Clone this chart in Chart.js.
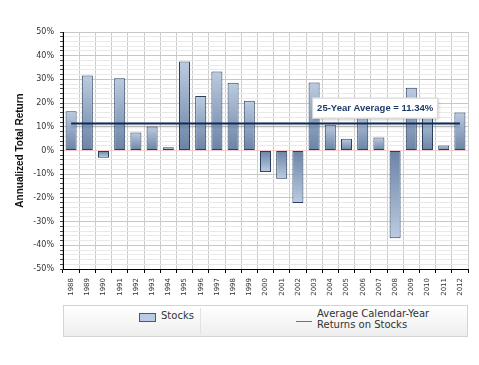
<!DOCTYPE html>
<html>
<head>
<meta charset="utf-8">
<script src="https://cdn.jsdelivr.net/npm/chart.js@4"></script>
<style>
  body { margin: 0; background: #fff; }
  #wrap { position: relative; width: 479px; height: 365px; }
  #legend {
    position: absolute; left: 63px; top: 305px; width: 403px; height: 30px;
    border: 1px solid #d4d4d4;
    background: linear-gradient(#ffffff, #eeeeee);
    font-family: "DejaVu Sans", Verdana, sans-serif; font-size: 10px; color: #333;
  }
  #legend .divider { position: absolute; left: 136px; top: 2px; bottom: 2px; border-left: 1px solid #e2e2e2; }
  #legend .swatch { position: absolute; left: 75px; top: 7px; width: 15px; height: 7px; background: #b9cce5; border: 1px solid #3e5b82; }
  #legend .t1 { position: absolute; left: 97px; top: 4px; }
  #legend .line { position: absolute; left: 232px; top: 15px; width: 16px; border-top: 1px solid #56759f; }
  #legend .t2 { position: absolute; left: 253px; top: 3px; line-height: 10.7px; }
</style>
</head>
<body>
<div id="wrap">
  <canvas id="returnsChart" width="479" height="365"></canvas>
  <div id="legend">
    <div class="swatch"></div><div class="t1">Stocks</div>
    <div class="divider"></div>
    <div class="line"></div><div class="t2">Average Calendar-Year<br>Returns on Stocks</div>
  </div>
</div>
<script>
// Chart data
const years = ['1988','1989','1990','1991','1992','1993','1994','1995','1996','1997','1998','1999','2000',
               '2001','2002','2003','2004','2005','2006','2007','2008','2009','2010','2011','2012'];
const stockReturns = [16.61, 31.69, -3.10, 30.47, 7.62, 10.08, 1.32, 37.58, 22.96, 33.36, 28.58, 21.04, -9.10,
                      -11.89, -22.10, 28.68, 10.88, 4.91, 15.79, 5.49, -37.00, 26.46, 15.06, 2.11, 16.00];
const averageReturn = 11.34;
const averageLine = [11.34, 11.34, 11.34, 11.34, 11.34, 11.34, 11.34, 11.34, 11.34, 11.34, 11.34, 11.34, 11.34,
                     11.34, 11.34, 11.34, 11.34, 11.34, 11.34, 11.34, 11.34, 11.34, 11.34, 11.34, 11.34];
const yMin = -50, yMax = 50, yStep = 2, yMajor = 10;
const labelYear = '2003'; // where the average callout sits

// gradient per bar: dark at the zero line, light at the far end
function barFill(ctx) {
    const chart = ctx.chart;
    if (!chart.chartArea) return '#9fb4d0';
    const v = ctx.raw;
    const yScale = chart.scales.y;
    const zero = yScale.getPixelForValue(0);
    const end = yScale.getPixelForValue(v);
    if (zero === end) return '#6f88aa';
    const g = chart.ctx.createLinearGradient(0, zero, 0, end);
    g.addColorStop(0, '#6a83a6');
    g.addColorStop(1, '#bccbe0');
    return g;
}

// soft shadow under the average line
const lineShadow = {
    id: 'lineShadow',
    beforeDatasetDraw(chart, args) {
        if (args.index !== 1) return;
        const c = chart.ctx;
        c.save();
        c.shadowColor = 'rgba(0,0,0,0.15)';
        c.shadowOffsetY = 3;
        c.shadowBlur = 2;
    },
    afterDatasetDraw(chart, args) {
        if (args.index !== 1) return;
        chart.ctx.restore();
    }
};

// callout box with the average value
const averageCallout = {
    id: 'averageCallout',
    afterDraw(chart) {
        const c = chart.ctx;
        const xs = chart.scales.x, ys = chart.scales.y;
        const text = '25-Year Average = ' + averageReturn.toFixed(2) + '%';
        c.save();
        c.font = 'bold 9.5px "Liberation Sans", Arial, sans-serif';
        const w = c.measureText(text).width + 10;
        const h = 21;
        const x = xs.getPixelForValue(years.indexOf(labelYear)) - 2;
        const y = ys.getPixelForValue(averageReturn) - 5 - h;
        c.shadowColor = 'rgba(0,0,0,0.25)';
        c.shadowBlur = 3;
        c.shadowOffsetX = 1;
        c.shadowOffsetY = 1;
        c.fillStyle = '#ffffff';
        c.fillRect(x, y, w, h);
        c.shadowColor = 'transparent';
        c.strokeStyle = '#d0d0d0';
        c.lineWidth = 1;
        c.strokeRect(x + 0.5, y + 0.5, w - 1, h - 1);
        c.fillStyle = '#1d3a66';
        c.textBaseline = 'middle';
        c.fillText(text, x + 5, y + h / 2 + 0.5);
        c.restore();
    }
};

new Chart(document.getElementById('returnsChart'), {
    type: 'bar',
    data: {
        labels: years,
        datasets: [{
            label: 'Stocks',
            data: stockReturns,
            backgroundColor: barFill,
            borderColor: '#2a3f5e',
            borderWidth: 1,
            borderSkipped: false,
            barPercentage: 0.68,
            categoryPercentage: 1,
            order: 2
        }, {
            type: 'line',
            label: 'Average Calendar-Year Returns on Stocks',
            data: averageLine,
            borderColor: '#0d2a5c',
            borderWidth: 2,
            pointRadius: 0,
            fill: false,
            order: 1
        }]
    },
    options: {
        responsive: false,
        animation: false,
        layout: { padding: { top: 32, right: 11, bottom: 64, left: 0 } },
        plugins: {
            legend: { display: false },
            tooltip: { enabled: false }
        },
        scales: {
            x: {
                grid: { offset: true, color: '#cccccc', tickColor: '#000', tickLength: 4 },
                border: { color: '#000', width: 1 },
                ticks: {
                    autoSkip: false, maxRotation: 90, minRotation: 90, padding: 5,
                    color: '#333', font: { family: '"DejaVu Sans", Verdana, sans-serif', size: 7 }
                },
                afterFit(scale) { scale.height = 32; }
            },
            y: {
                min: yMin, max: yMax,
                grid: {
                    color(ctx) {
                        const v = ctx.tick ? ctx.tick.value : 0;
                        if (v === 0) return '#f4cccc';
                        return v % yMajor === 0 ? '#c8c8c8' : '#e9e9e9';
                    },
                    tickColor: '#444', tickLength: 3
                },
                border: { color: '#000', width: 1 },
                ticks: {
                    stepSize: yStep, autoSkip: false, padding: 6,
                    color: '#333', font: { family: '"DejaVu Sans", Verdana, sans-serif', size: 8 },
                    callback: v => (v % yMajor === 0 ? v + '%' : '')
                },
                title: {
                    display: true, text: 'Annualized Total Return', color: '#111',
                    font: { family: '"Liberation Sans", Arial, sans-serif', size: 10, weight: 'bold' },
                    padding: { top: 14, bottom: 0 }
                },
                afterFit(scale) { scale.width = 63; }
            }
        }
    },
    plugins: [lineShadow, averageCallout]
});
</script>
</body>
</html>
